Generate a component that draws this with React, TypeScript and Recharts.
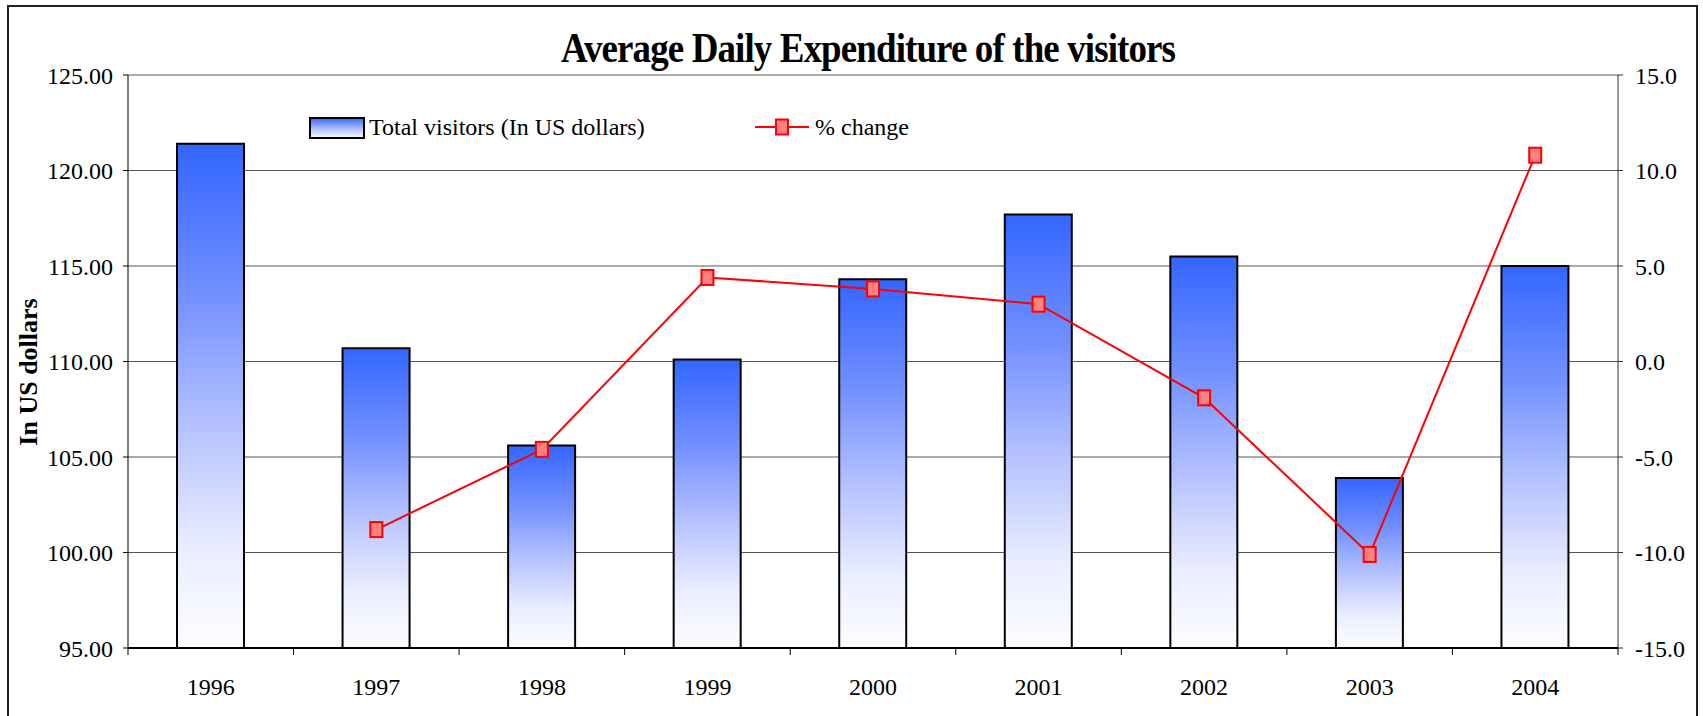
import React from "react"
import {
  ComposedChart,
  Bar,
  Line,
  XAxis,
  YAxis,
  CartesianGrid,
} from "recharts"

const years = ["1996", "1997", "1998", "1999", "2000", "2001", "2002", "2003", "2004"]
const expenditure = [121.4, 110.7, 105.6, 110.1, 114.3, 117.7, 115.5, 103.9, 115.0]
const pctChange = [null, -8.8, -4.6, 4.4, 3.8, 3.0, -1.9, -10.1, 10.8]
const leftTicks = [95, 100, 105, 110, 115, 120, 125]
const rightTicks = [-15, -10, -5, 0, 5, 10, 15]

const W = 1703
const H = 716
const LEFT_W = 128
const RIGHT_W = 85
const PLOT_W = W - LEFT_W - RIGHT_W
const FONT = '"Liberation Serif", "Times New Roman", serif'

const data = years.map((year, i) => ({
  year,
  total: expenditure[i],
  change: pctChange[i],
}))

function YearTick(props: any) {
  const { x, y, payload, index } = props
  const band = PLOT_W / years.length
  return (
    <g>
      <line x1={x - band / 2} x2={x - band / 2} y1={y} y2={y + 7} stroke="#000" />
      {index === years.length - 1 && (
        <line x1={x + band / 2} x2={x + band / 2} y1={y} y2={y + 7} stroke="#000" />
      )}
      <text
        x={x}
        y={y + 39}
        textAnchor="middle"
        dominantBaseline="central"
        fontFamily={FONT}
        fontSize={24}
        fill="#000"
      >
        {payload.value}
      </text>
    </g>
  )
}

function SquareDot(props: any) {
  const { cx, cy, index } = props
  if (cy == null || isNaN(cy)) return <g key={`d${index}`} />
  return (
    <rect
      key={`d${index}`}
      x={cx - 6}
      y={cy - 7.5}
      width={12}
      height={15}
      fill="#ff8080"
      stroke="#ff0000"
      strokeWidth={2}
    />
  )
}

export default function App() {
  const tickStyle = { fontFamily: FONT, fontSize: 24, fill: "#000" }
  return (
    <div
      style={{
        position: "absolute",
        left: 0,
        top: 0,
        width: W,
        height: H,
        background: "#fff",
        overflow: "hidden",
      }}
    >
      <div
        style={{
          position: "absolute",
          left: 7,
          top: 5,
          width: 1691,
          height: 800,
          border: "2px solid #222",
          boxSizing: "border-box",
        }}
      />
      <div style={{ position: "absolute", left: 0, top: 0 }}>
        <ComposedChart
          width={W}
          height={H}
          data={data}
          margin={{ top: 75, right: 0, bottom: 0, left: 0 }}
          barCategoryGap={0}
        >
          <defs>
            <linearGradient id="barFill" x1="0" y1="0" x2="0" y2="1">
              <stop offset="0%" stopColor="#3366ff" />
              <stop offset="30%" stopColor="#7390ff" />
              <stop offset="55%" stopColor="#b3c0ff" />
              <stop offset="80%" stopColor="#e9edff" />
              <stop offset="100%" stopColor="#fdfdff" />
            </linearGradient>
          </defs>
          <CartesianGrid yAxisId="left" vertical={false} stroke="#555" />
          <XAxis
            dataKey="year"
            height={68}
            tickLine={false}
            tickSize={0}
            tickMargin={0}
            axisLine={{ stroke: "#000", strokeWidth: 2 }}
            tick={<YearTick />}
            interval={0}
          />
          <YAxis
            yAxisId="left"
            width={LEFT_W}
            domain={[95, 125]}
            ticks={leftTicks}
            tickFormatter={(v: number) => v.toFixed(2)}
            tick={tickStyle}
            tickSize={5}
            tickMargin={10}
            axisLine={{ stroke: "#000" }}
            tickLine={{ stroke: "#000" }}
            label={{
              content: () => (
                <text
                  x={28}
                  y={372}
                  transform="rotate(-90, 28, 372)"
                  textAnchor="middle"
                  dominantBaseline="central"
                  fontFamily={FONT}
                  fontWeight="bold"
                  fontSize={26}
                  fill="#000"
                >
                  In US dollars
                </text>
              ),
            }}
          />
          <YAxis
            yAxisId="right"
            orientation="right"
            width={RIGHT_W}
            domain={[-15, 15]}
            ticks={rightTicks}
            tickFormatter={(v: number) => v.toFixed(1)}
            tick={tickStyle}
            tickSize={5}
            tickMargin={12}
            axisLine={{ stroke: "#333" }}
            tickLine={{ stroke: "#333" }}
          />
          <Bar
            yAxisId="left"
            dataKey="total"
            barSize={67}
            fill="url(#barFill)"
            stroke="#000"
            strokeWidth={2}
            isAnimationActive={false}
          />
          <Line
            yAxisId="right"
            dataKey="change"
            stroke="#ff0000"
            strokeWidth={2}
            dot={<SquareDot />}
            activeDot={false}
            connectNulls={false}
            isAnimationActive={false}
          />
        </ComposedChart>
      </div>
      <svg
        width={W}
        height={H}
        style={{ position: "absolute", left: 0, top: 0, pointerEvents: "none" }}
      >
        <text
          x={868}
          y={62}
          textAnchor="middle"
          fontFamily={FONT}
          fontWeight="bold"
          fontSize={42}
          letterSpacing={-1}
          transform="translate(868 0) scale(0.88 1) translate(-868 0)"
          fill="#000"
        >
          Average Daily Expenditure of the visitors
        </text>
        <rect x={310} y={118} width={54} height={20} fill="url(#legendFill)" stroke="#000" strokeWidth={2} />
        <defs>
          <linearGradient id="legendFill" x1="0" y1="0" x2="0" y2="1">
            <stop offset="0%" stopColor="#3366ff" />
            <stop offset="55%" stopColor="#b3c0ff" />
            <stop offset="100%" stopColor="#fdfdff" />
          </linearGradient>
        </defs>
        <text x={369} y={127} dominantBaseline="central" fontFamily={FONT} fontSize={24} fill="#000">
          Total visitors (In US dollars)
        </text>
        <line x1={755} x2={809} y1={127} y2={127} stroke="#ff0000" strokeWidth={2} />
        <rect x={776} y={119.5} width={12} height={15} fill="#ff8080" stroke="#ff0000" strokeWidth={2} />
        <text x={815} y={127} dominantBaseline="central" fontFamily={FONT} fontSize={24} fill="#000">
          % change
        </text>
      </svg>
    </div>
  )
}
